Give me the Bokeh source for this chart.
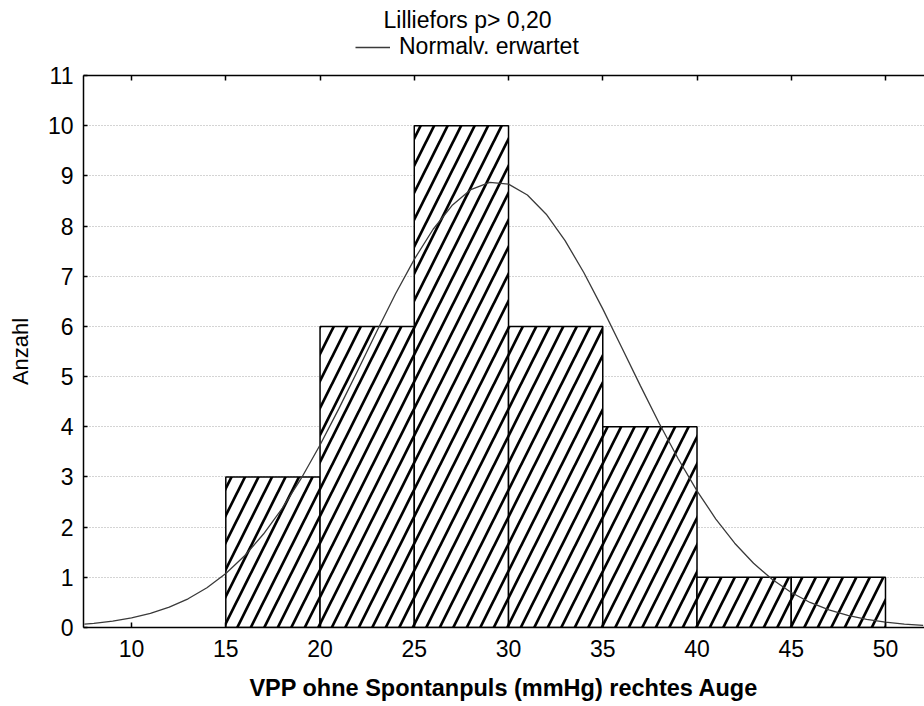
from bokeh.plotting import figure
from bokeh.layouts import column
from bokeh.models import (LinearAxis, Legend, LegendItem, FixedTicker,
                          Range1d, Label)
from bokeh.embed import file_html
from bokeh.resources import INLINE

# ---------------- data ----------------
bin_left = [15, 20, 25, 30, 35, 40, 45]
bin_right = [20, 25, 30, 35, 40, 45, 50]
counts = [3, 6, 10, 6, 4, 1, 1]

# expected-normal curve
curve_x = [7.5, 8, 9, 10, 11, 12, 13, 14, 15, 16, 17, 18, 19, 20, 21, 22, 23,
           24, 25, 26, 27, 28, 29, 30, 31, 32, 33, 34, 35, 36, 37, 38, 39, 40,
           41, 42, 43, 44, 45, 46, 47, 48, 49, 50, 51, 52]
curve_y = [0.066, 0.082, 0.126, 0.190, 0.280, 0.405, 0.572, 0.793, 1.075,
           1.430, 1.863, 2.377, 2.970, 3.636, 4.361, 5.123, 5.895, 6.645,
           7.337, 7.936, 8.408, 8.726, 8.872, 8.835, 8.619, 8.236, 7.710,
           7.069, 6.350, 5.586, 4.815, 4.065, 3.362, 2.724, 2.161, 1.680,
           1.279, 0.955, 0.697, 0.499, 0.350, 0.240, 0.162, 0.107, 0.069,
           0.044]

x_ticks = [10, 15, 20, 25, 30, 35, 40, 45, 50]
y_ticks = [0, 1, 2, 3, 4, 5, 6, 7, 8, 9, 10, 11]

title_text = "Lilliefors p> 0,20"
legend_text = "Normalv. erwartet"
x_title = "VPP ohne Spontanpuls (mmHg) rechtes Auge"
y_title = "Anzahl"

FONT = "Liberation Sans"
CURVE_COLOR = "#3a3a3a"
HEADER_H = 60
TOTAL_W, TOTAL_H = 924, 706

# ---------------- header (title + legend) ----------------
hdr = figure(width=TOTAL_W, height=HEADER_H,
             x_range=Range1d(0, 1), y_range=Range1d(0, 1),
             output_backend="svg", toolbar_location=None,
             title_location=None, x_axis_location=None,
             y_axis_location=None)
hdr.min_border = 0
hdr.min_border_left = 0
hdr.min_border_right = 0
hdr.min_border_top = 0
hdr.min_border_bottom = 0
hdr.outline_line_color = None
hdr.grid.visible = False
hdr.background_fill_color = "white"
hdr.border_fill_color = "white"

hdr.add_layout(Label(x=300, y=HEADER_H - 19, x_units="screen",
                     y_units="screen", text=title_text, text_font=FONT,
                     text_font_size="23px", text_color="black",
                     text_align="left", text_baseline="middle"))

# hidden copy of the curve: only its legend sample is shown
legend_line = hdr.line(x=curve_x, y=curve_y, line_color=CURVE_COLOR,
                       line_width=1.3, visible=False)
legend = Legend(items=[LegendItem(label=legend_text,
                                  renderers=[legend_line])],
                location=(272, HEADER_H - 47 - 13), orientation="horizontal",
                padding=0, margin=0, spacing=0,
                glyph_width=35, glyph_height=26, label_height=26,
                label_standoff=9, inactive_fill_alpha=0,
                label_text_font=FONT, label_text_font_size="23px",
                label_text_color="black",
                border_line_color=None, background_fill_alpha=0)
hdr.add_layout(legend)

# ---------------- main chart ----------------
p = figure(width=TOTAL_W, height=TOTAL_H - HEADER_H,
           x_range=Range1d(7.45, 52.07), y_range=Range1d(0, 11),
           output_backend="svg", toolbar_location=None,
           title_location=None)
p.min_border_left = 83
p.min_border_right = 0
p.min_border_top = 75 - HEADER_H
p.min_border_bottom = 79
p.outline_line_color = None
p.background_fill_color = "white"
p.border_fill_color = "white"

# grid
p.xgrid.visible = False
p.ygrid.ticker = FixedTicker(ticks=y_ticks)
p.ygrid.grid_line_color = "#a8a8a8"
p.ygrid.grid_line_dash = "1 2"
p.ygrid.grid_line_width = 1

# bottom axis
xa = p.xaxis[0]
xa.ticker = FixedTicker(ticks=x_ticks)
xa.axis_label = x_title
xa.axis_label_text_font = FONT
xa.axis_label_text_font_style = "bold"
xa.axis_label_text_font_size = "23.5px"
xa.axis_label_text_color = "black"
xa.axis_label_standoff = 15
xa.major_label_text_font = FONT
xa.major_label_text_font_size = "23px"
xa.major_label_text_color = "black"
xa.major_label_standoff = 12
xa.major_tick_in = 5
xa.major_tick_out = 0
xa.minor_tick_line_color = None
xa.axis_line_width = 1.5
xa.axis_line_color = "black"
xa.major_tick_line_width = 1.5
xa.major_tick_line_color = "black"

# left axis
ya = p.yaxis[0]
ya.ticker = FixedTicker(ticks=y_ticks)
ya.axis_label = y_title
ya.axis_label_text_font = FONT
ya.axis_label_text_font_style = "normal"
ya.axis_label_text_font_size = "22px"
ya.axis_label_text_color = "black"
ya.axis_label_standoff = 12
ya.major_label_text_font = FONT
ya.major_label_text_font_size = "23px"
ya.major_label_text_color = "black"
ya.major_label_standoff = 10
ya.major_tick_in = 4
ya.major_tick_out = 0
ya.minor_tick_line_color = None
ya.axis_line_width = 1.5
ya.axis_line_color = "black"
ya.major_tick_line_width = 1.5
ya.major_tick_line_color = "black"

# top axis (ticks only, labels not drawn)
top = LinearAxis(ticker=FixedTicker(ticks=x_ticks),
                 major_label_text_color=None,
                 major_label_text_font_size="1px",
                 major_label_standoff=0,
                 major_tick_in=5, major_tick_out=0,
                 minor_tick_line_color=None,
                 axis_line_width=1.5, axis_line_color="black",
                 major_tick_line_width=1.5, major_tick_line_color="black")
p.add_layout(top, "above")

# bars
p.quad(left=bin_left, right=bin_right, top=counts, bottom=0,
       fill_color="white", line_color="black", line_width=1.5,
       hatch_pattern="/", hatch_color="black", hatch_weight=2.7,
       hatch_scale=27)

# curve
p.line(curve_x, curve_y, line_color=CURVE_COLOR, line_width=1.3)

layout = column(hdr, p, spacing=0)
open("out.html", "w").write(file_html(layout, INLINE))
